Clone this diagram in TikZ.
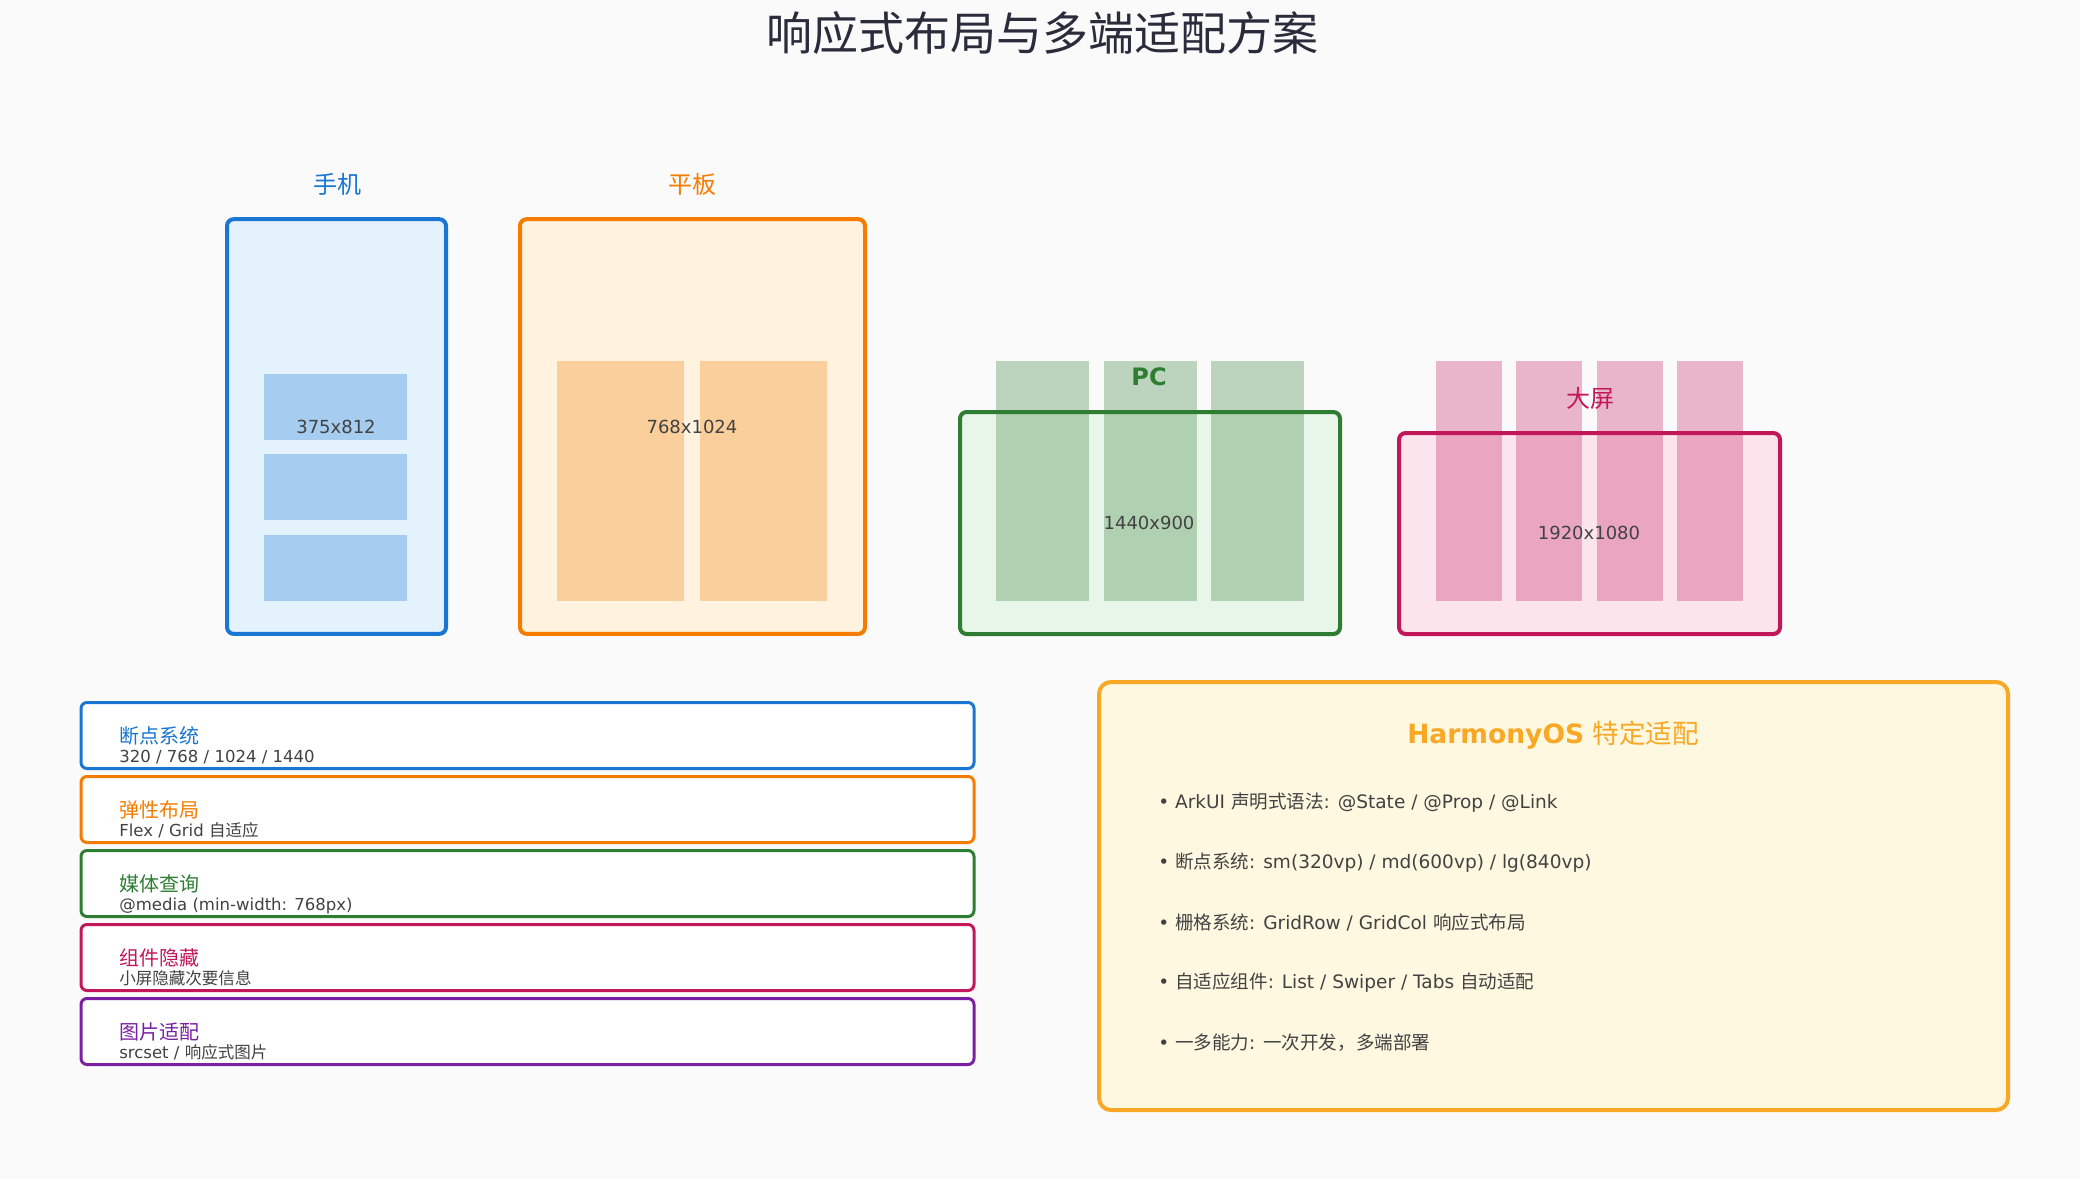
\documentclass[tikz,border=0pt]{standalone}
\usepackage{fontspec}
\setmainfont{DejaVu Sans}
\newfontfamily\cjk{Noto Sans CJK SC}
\newcommand{\zh}[1]{{\cjk #1}}
\definecolor{rsbg}{HTML}{FAFAFA}
\definecolor{rstitle}{HTML}{2B2B3C}
\definecolor{rstext}{HTML}{424242}
\definecolor{phline}{HTML}{1976D2}
\definecolor{phfill}{HTML}{E3F2FD}
\definecolor{tbline}{HTML}{F57C00}
\definecolor{tbfill}{HTML}{FFF3E0}
\definecolor{pcline}{HTML}{2E7D32}
\definecolor{pcfill}{HTML}{E8F5E9}
\definecolor{lgline}{HTML}{C2185B}
\definecolor{lgfill}{HTML}{FCE4EC}
\definecolor{imline}{HTML}{7B1FA2}
\definecolor{hmline}{HTML}{F9A825}
\definecolor{hmfill}{HTML}{FFF8E1}

\begin{document}
\begin{tikzpicture}[x=0.75pt,y=-0.75pt,
  device/.style={draw=#1,line width=3pt,rounded corners=5pt,inner sep=0pt},
  cell/.style={fill=#1,fill opacity=0.3},
  devlabel/.style={font=\cjk\fontsize{18}{20}\selectfont,text=#1},
  res/.style={font=\fontsize{13.5}{16}\selectfont,text=rstext},
  item/.style={draw=#1,fill=white,line width=2.25pt,rounded corners=4.5pt,inner sep=0pt,
    minimum width=669.75pt,minimum height=49.5pt},
  itemhead/.style={anchor=base west,inner sep=0pt,font=\cjk\fontsize{15}{17}\selectfont,text=#1},
  itemsub/.style={anchor=base west,inner sep=0pt,font=\fontsize{12.4}{14}\selectfont,text=rstext},
  bullet/.style={anchor=west,inner sep=0pt,font=\fontsize{13.9}{16}\selectfont,text=rstext}]
  \fill[rsbg] (0,0) rectangle (2080,1179);
  \useasboundingbox (0,0) rectangle (2080,1179);
  \node[font=\cjk\fontsize{34.5}{36}\selectfont,text=rstitle] (title) at (1042,33)
    {响应式布局与多端适配方案};

  \node[device=phline,fill=phfill,minimum width=164.25pt,minimum height=311pt]
    (phone) at (336.5,426.5) {};
  \node[device=tbline,fill=tbfill,minimum width=258.75pt,minimum height=311pt]
    (tablet) at (692.5,426.5) {};
  \node[device=pcline,fill=pcfill,minimum width=285pt,minimum height=166.5pt]
    (pc) at (1150,523) {};
  \node[device=lgline,fill=lgfill,minimum width=285.75pt,minimum height=150.75pt]
    (large) at (1589.5,533.5) {};
  \foreach \y in {374,454,535}
    \fill[cell=phline] (264,\y) rectangle ++(143,66);
  \foreach \x in {557,700}
    \fill[cell=tbline] (\x,361) rectangle ++(127,240);
  \foreach \x in {996,1104,1211}
    \fill[cell=pcline] (\x,361) rectangle ++(93,240);
  \foreach \x in {1436,1516,1597,1677}
    \fill[cell=lgline] (\x,361) rectangle ++(66,240);
  \node[devlabel=phline] (phonelbl) at (337,184) {手机};
  \node[devlabel=tbline] (tabletlbl) at (692,184) {平板};
  \node[font=\bfseries\fontsize{18}{20}\selectfont,text=pcline] (pclbl) at (1149,377) {PC};
  \node[devlabel=lgline] (largelbl) at (1590,398) {大屏};
  \node[res] (phoneres) at (336,427) {375x812};
  \node[res] (tabletres) at (692,427) {768x1024};
  \node[res] (pcres) at (1149,523) {1440x900};
  \node[res] (largeres) at (1589,533) {1920x1080};

  \node[item=phline] (bp) at (527.5,735.5) {};
  \node[itemhead=phline] (bphead) at (119,743) {断点系统};
  \node[itemsub] (bpsub) at (119,762) {320 / 768 / 1024 / 1440};
  \node[item=tbline] (flex) at (527.5,809.5) {};
  \node[itemhead=tbline] (flexhead) at (119,817) {弹性布局};
  \node[itemsub] (flexsub) at (119,836) {Flex / Grid \zh{自适应}};
  \node[item=pcline] (media) at (527.5,883.5) {};
  \node[itemhead=pcline] (mediahead) at (119,891) {媒体查询};
  \node[itemsub] (mediasub) at (119,910) {@media (min-width: 768px)};
  \node[item=lgline] (hide) at (527.5,957.5) {};
  \node[itemhead=lgline] (hidehead) at (119,965) {组件隐藏};
  \node[itemsub] (hidesub) at (119,984) {\zh{小屏隐藏次要信息}};
  \node[item=imline] (img) at (527.5,1031.5) {};
  \node[itemhead=imline] (imghead) at (119,1039) {图片适配};
  \node[itemsub] (imgsub) at (119,1058) {srcset / \zh{响应式图片}};

  \node[draw=hmline,fill=hmfill,line width=3pt,rounded corners=9pt,inner sep=0pt,
    minimum width=681.75pt,minimum height=321pt] (harmony) at (1553.5,896) {};
  \node[font=\fontsize{19.9}{22}\selectfont,text=hmline] (harmonyhead) at (1553,735)
    {\textbf{HarmonyOS} \zh{特定适配}};
  \node[bullet] (ark) at (1158,803) {• ArkUI \zh{声明式语法}: @State / @Prop / @Link};
  \node[bullet] (bpts) at (1158,863) {• \zh{断点系统}: sm(320vp) / md(600vp) / lg(840vp)};
  \node[bullet] (grid) at (1158,922) {• \zh{栅格系统}: GridRow / GridCol \zh{响应式布局}};
  \node[bullet] (comp) at (1158,983) {• \zh{自适应组件}: List / Swiper / Tabs \zh{自动适配}};
  \node[bullet] (multi) at (1158,1043) {• \zh{一多能力}: \zh{一次开发，多端部署}};
\end{tikzpicture}
\end{document}
